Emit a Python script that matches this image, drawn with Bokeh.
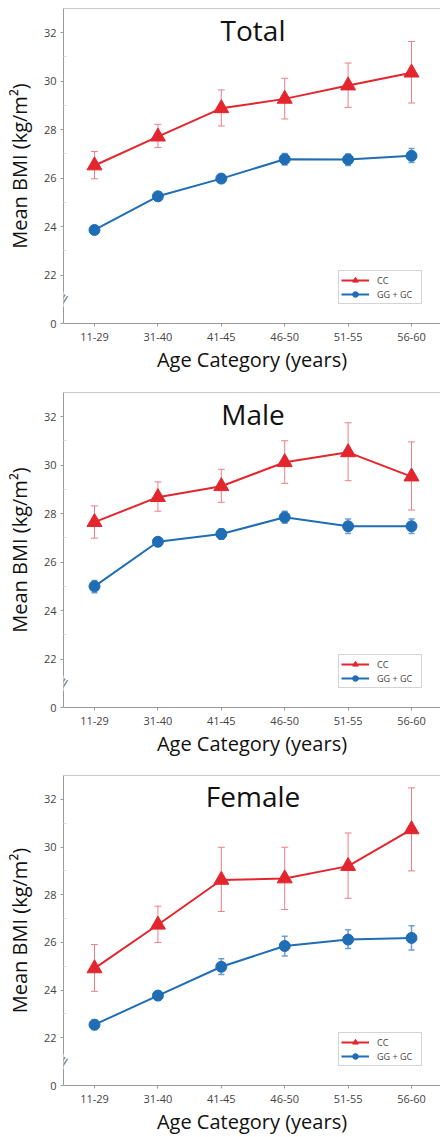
from bokeh.plotting import figure
from bokeh.models import Legend, LegendItem, FixedTicker, Label, Span, Range1d
from bokeh.layouts import column
from bokeh.embed import file_html
from bokeh.resources import INLINE

# ---------------- data ----------------
age_groups = ["11-29", "31-40", "41-45", "46-50", "51-55", "56-60"]
y_ticks = [20, 22, 24, 26, 28, 30, 32]
y_tick_labels = ["0", "22", "24", "26", "28", "30", "32"]
series_names = ["CC", "GG + GC"]
panel_titles = ["Total", "Male", "Female"]

total_cc = [26.52, 27.71, 28.88, 29.27, 29.82, 30.35]
total_cc_hi = [27.10, 28.22, 29.64, 30.12, 30.75, 31.64]
total_cc_lo = [25.97, 27.26, 28.15, 28.44, 28.92, 29.10]
total_gg = [23.86, 25.25, 25.98, 26.78, 26.77, 26.92]
total_gg_hi = [24.00, 25.38, 26.12, 27.02, 27.00, 27.22]
total_gg_lo = [23.72, 25.12, 25.84, 26.54, 26.52, 26.64]

male_cc = [27.65, 28.68, 29.13, 30.12, 30.53, 29.53]
male_cc_hi = [28.32, 29.31, 29.83, 31.01, 31.75, 30.96]
male_cc_lo = [26.99, 28.10, 28.47, 29.25, 29.36, 28.15]
male_gg = [25.00, 26.84, 27.16, 27.85, 27.48, 27.48]
male_gg_hi = [25.24, 26.99, 27.38, 28.10, 27.78, 27.78]
male_gg_lo = [24.74, 26.69, 26.94, 27.60, 27.18, 27.18]

female_cc = [24.91, 26.74, 28.62, 28.68, 29.20, 30.74]
female_cc_hi = [25.91, 27.52, 29.99, 29.99, 30.59, 32.48]
female_cc_lo = [23.95, 26.00, 27.30, 27.38, 27.85, 29.00]
female_gg = [22.55, 23.77, 24.98, 25.85, 26.12, 26.19]
female_gg_hi = [22.75, 23.94, 25.32, 26.26, 26.53, 26.70]
female_gg_lo = [22.35, 23.60, 24.66, 25.43, 25.74, 25.68]

# ---------------- style ----------------
FONT = "Open Sans"
RED = "#e3262e"
RED_ERR = "#ec7f86"
BLUE = "#1f6db5"
BLUE_ERR = "#6a9fd6"
AXIS = "#9a9a9a"

X0, X1 = -0.489, 5.457
Y0, Y1 = 20.0, 33.0


def make_panel(title, cc, cc_hi, cc_lo, gg, gg_hi, gg_lo, height, top, bottom):
    xs = list(range(len(age_groups)))
    p = figure(width=440, height=height, x_range=Range1d(X0, X1), y_range=Range1d(Y0, Y1),
               output_backend="svg", toolbar_location=None,
               min_border_left=63, min_border_right=0, min_border_top=top, min_border_bottom=bottom)
    p.outline_line_color = None
    p.xgrid.visible = False
    p.ygrid.visible = False
    p.background_fill_color = "white"

    # axes
    p.xaxis.ticker = FixedTicker(ticks=xs)
    p.xaxis.major_label_overrides = {i: a for i, a in enumerate(age_groups)}
    p.yaxis.ticker = FixedTicker(ticks=y_ticks, minor_ticks=[23, 25, 27, 29, 31])
    p.yaxis.major_label_overrides = dict(zip(y_ticks, y_tick_labels))
    for ax in (p.xaxis, p.yaxis):
        ax.axis_line_color = AXIS
        ax.major_tick_line_color = AXIS
        ax.major_tick_out = 3
        ax.major_tick_in = 0
        ax.major_label_text_font = FONT
        ax.major_label_text_font_size = "11px"
        ax.major_label_text_color = "#444444"
        ax.axis_label_text_font = FONT
        ax.axis_label_text_font_size = "20px"
        ax.axis_label_text_font_style = "normal"
        ax.axis_label_text_color = "#111111"
    p.xaxis.minor_tick_line_color = None
    p.yaxis.minor_tick_in = 3
    p.yaxis.minor_tick_out = 0
    p.yaxis.minor_tick_line_color = "#dddddd"
    p.xaxis.major_label_standoff = 6
    p.xaxis.axis_label_standoff = 2
    p.yaxis.major_label_standoff = 4
    p.yaxis.axis_label_standoff = 8
    p.xaxis.axis_label = "Age Category (years)"
    p.yaxis.axis_label = "Mean BMI (kg/m\u00b2)"

    p.add_layout(Span(location=Y1, dimension="width", line_color=AXIS, line_width=1))

    # error bars
    p.segment(x0=xs, y0=cc_lo, x1=xs, y1=cc_hi, line_color=RED_ERR, line_width=1)
    p.scatter(xs + xs, cc_hi + cc_lo, marker="dash", size=7, line_color=RED_ERR, line_width=1)
    p.segment(x0=xs, y0=gg_lo, x1=xs, y1=gg_hi, line_color=BLUE_ERR, line_width=1.5)
    p.scatter(xs + xs, gg_hi + gg_lo, marker="dash", size=6, line_color=BLUE_ERR, line_width=1.5)

    # series
    l_cc = p.line(xs, cc, line_color=RED, line_width=2)
    m_cc = p.scatter(xs, cc, marker="triangle", size=15, fill_color=RED, line_color=RED)
    l_gg = p.line(xs, gg, line_color=BLUE, line_width=2)
    m_gg = p.scatter(xs, gg, marker="circle", size=11, fill_color=BLUE, line_color=BLUE)

    legend = Legend(items=[LegendItem(label=series_names[0], renderers=[l_cc, m_cc]),
                           LegendItem(label=series_names[1], renderers=[l_gg, m_gg])],
                    location=(275, 19), orientation="vertical",
                    border_line_color="#aaaaaa", border_line_width=1,
                    background_fill_color="white", background_fill_alpha=1,
                    label_text_font=FONT, label_text_font_size="9px", label_text_color="#444444",
                    glyph_width=28, glyph_height=14, label_height=14, label_width=42,
                    label_standoff=8, padding=2, spacing=-1, margin=0)
    p.add_layout(legend, "center")

    # title inside plot
    p.add_layout(Label(x=(xs[0] + xs[-1]) / 2, y=32.13, text=title, text_align="center",
                       text_baseline="middle", text_font=FONT, text_font_size="28px",
                       text_color="#111111"))
    # axis break mark
    p.add_layout(Label(x=X0, y=21.0, text="=", angle=1.0, text_align="center",
                       text_baseline="middle", text_font="DejaVu Sans", text_font_size="15px",
                       text_color="#777777", background_fill_color="white",
                       background_fill_alpha=1.0))
    return p


p1 = make_panel(panel_titles[0], total_cc, total_cc_hi, total_cc_lo,
                total_gg, total_gg_hi, total_gg_lo, 392, 8, 69)
p2 = make_panel(panel_titles[1], male_cc, male_cc_hi, male_cc_lo,
                male_gg, male_gg_hi, male_gg_lo, 383, 0, 68)
p3 = make_panel(panel_titles[2], female_cc, female_cc_hi, female_cc_lo,
                female_gg, female_gg_hi, female_gg_lo, 362, 0, 46)

page = column(p1, p2, p3, spacing=0)
open("out.html", "w").write(file_html(page, INLINE))
